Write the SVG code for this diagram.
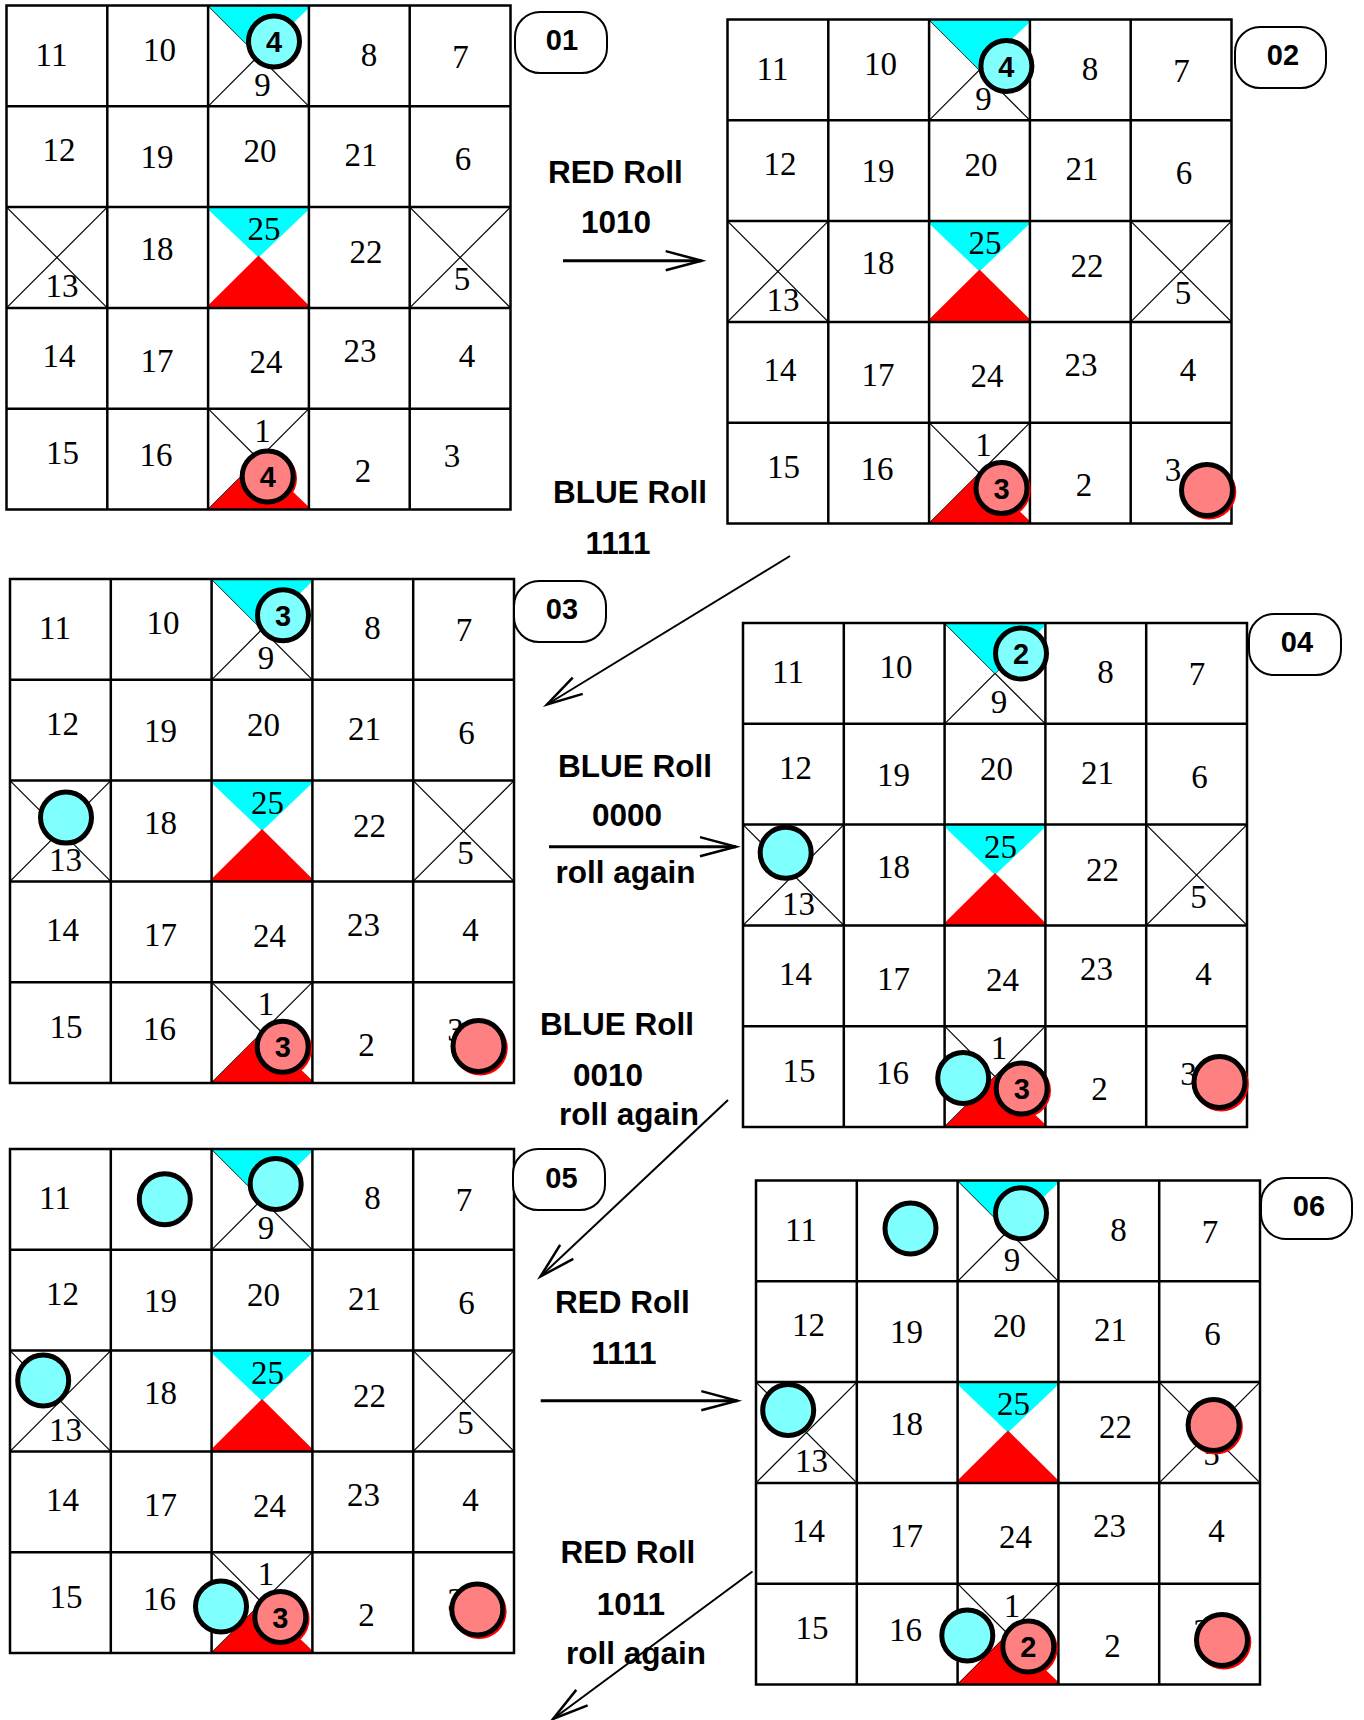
<svg xmlns="http://www.w3.org/2000/svg" xmlns:xlink="http://www.w3.org/1999/xlink" width="1364" height="1720" viewBox="0 0 1364 1720">
<style>
.gl{fill:none;stroke:#000;stroke-width:2.5}
.xl{stroke:#000;stroke-width:1.2}
.cy{fill:#00FFFF}
.rd{fill:#FF0000}
.n text{font-family:"Liberation Serif","Times New Roman",serif;font-size:33px;text-anchor:middle;fill:#000}
.tc{fill:#80FFFF;stroke:#000;stroke-width:5}
.tr{fill:#FF8080;stroke:#000;stroke-width:5}
.ts{fill:#FF0000}
.tl{font-family:"Liberation Sans",Arial,sans-serif;font-weight:bold;font-size:29px;text-anchor:middle;fill:#000}
.lb{font-family:"Liberation Sans",Arial,sans-serif;font-weight:bold;font-size:31.5px;text-anchor:middle;fill:#000}
.box{fill:#fff;stroke:#000;stroke-width:2}
.bn{font-family:"Liberation Sans",Arial,sans-serif;font-weight:bold;font-size:29px;text-anchor:middle;fill:#000}
.arh{fill:none;stroke:#000;stroke-width:3;marker-end:url(#ah)}
.ard{fill:none;stroke:#000;stroke-width:2;marker-end:url(#ah)}
</style>
<defs>
<marker id="ah" markerUnits="userSpaceOnUse" orient="auto" refX="0" refY="0" markerWidth="40" markerHeight="24" viewBox="-38 -12 40 24" overflow="visible">
<path d="M-36,-9.6 L0,0 L-36,9.6" fill="none" stroke="#000" stroke-width="2.5"/>
</marker>
<g id="grid">
<rect x="0" y="0" width="504" height="504" fill="#fff"/>
<line class="xl" x1="201.6" y1="0" x2="302.4" y2="100.8"/>
<line class="xl" x1="302.4" y1="0" x2="201.6" y2="100.8"/>
<line class="xl" x1="0" y1="201.6" x2="100.8" y2="302.4"/>
<line class="xl" x1="100.8" y1="201.6" x2="0" y2="302.4"/>
<line class="xl" x1="403.2" y1="201.6" x2="504" y2="302.4"/>
<line class="xl" x1="504" y1="201.6" x2="403.2" y2="302.4"/>
<line class="xl" x1="201.6" y1="403.2" x2="302.4" y2="504"/>
<line class="xl" x1="302.4" y1="403.2" x2="201.6" y2="504"/>
<polygon class="cy" points="201.6,0 305,0 252,50.4"/>
<polygon class="cy" points="199,201.6 305,201.6 252,252"/>
<polygon class="rd" points="199,302.4 305,302.4 252,250"/>
<polygon class="rd" points="201.6,504 305,504 252,453.6"/>
<rect class="gl" x="0" y="0" width="504" height="504"/>
<path class="gl" d="M100.8,0V504M201.6,0V504M302.4,0V504M403.2,0V504M0,100.8H504M0,201.6H504M0,302.4H504M0,403.2H504"/>
</g>
</defs>
<rect x="0" y="0" width="1364" height="1720" fill="#fff"/>

<g id="board01" transform="translate(6.5,5.5)">
<use href="#grid"/>
<g class="n">
<text x="45" y="60">11</text><text x="153" y="55">10</text><text x="256" y="90">9</text><text x="362.5" y="60">8</text><text x="454" y="62">7</text>
<text x="52.5" y="155.5">12</text><text x="150.5" y="162.5">19</text><text x="253.5" y="156.5">20</text><text x="354.5" y="160.5">21</text><text x="456.5" y="164.5">6</text>
<text x="55.5" y="291.5">13</text><text x="150.5" y="254.5">18</text><text x="257.5" y="234.5">25</text><text x="359.5" y="257.5">22</text><text x="455.5" y="284.5">5</text>
<text x="52.5" y="361.5">14</text><text x="150.5" y="366.5">17</text><text x="259.5" y="367.5">24</text><text x="353.5" y="356.5">23</text><text x="460.5" y="361.5">4</text>
<text x="56" y="458.5">15</text><text x="149.5" y="460.5">16</text><text x="256" y="436">1</text><text x="356.5" y="476.5">2</text><text x="445.5" y="461.5">3</text>
</g>
<circle class="tc" cx="267.5" cy="36" r="25.5"/><text class="tl" x="267.5" y="46.5">4</text>
<circle class="ts" cx="263" cy="473" r="27.5"/><circle class="tr" cx="261.2" cy="471" r="25.5"/><text class="tl" x="261.2" y="481.5">4</text>
</g>

<g id="board02" transform="translate(727.5,19.5)">
<use href="#grid"/>
<g class="n">
<text x="45" y="60">11</text><text x="153" y="55">10</text><text x="256" y="90">9</text><text x="362.5" y="60">8</text><text x="454" y="62">7</text>
<text x="52.5" y="155.5">12</text><text x="150.5" y="162.5">19</text><text x="253.5" y="156.5">20</text><text x="354.5" y="160.5">21</text><text x="456.5" y="164.5">6</text>
<text x="55.5" y="291.5">13</text><text x="150.5" y="254.5">18</text><text x="257.5" y="234.5">25</text><text x="359.5" y="257.5">22</text><text x="455.5" y="284.5">5</text>
<text x="52.5" y="361.5">14</text><text x="150.5" y="366.5">17</text><text x="259.5" y="367.5">24</text><text x="353.5" y="356.5">23</text><text x="460.5" y="361.5">4</text>
<text x="56" y="458.5">15</text><text x="149.5" y="460.5">16</text><text x="256" y="436">1</text><text x="356.5" y="476.5">2</text><text x="445.5" y="461.5">3</text>
</g>
<circle class="tc" cx="278.9" cy="46.5" r="25.5"/><text class="tl" x="278.9" y="57">4</text>
<circle class="ts" cx="275.8" cy="470.5" r="27.5"/><circle class="tr" cx="274" cy="468.5" r="25.5"/><text class="tl" x="274" y="479">3</text>
<circle class="ts" cx="481.3" cy="472.5" r="27.5"/><circle class="tr" cx="479.5" cy="470.5" r="25.5"/>
</g>

<g id="board03" transform="translate(10,579)">
<use href="#grid"/>
<g class="n">
<text x="45" y="60">11</text><text x="153" y="55">10</text><text x="256" y="90">9</text><text x="362.5" y="60">8</text><text x="454" y="62">7</text>
<text x="52.5" y="155.5">12</text><text x="150.5" y="162.5">19</text><text x="253.5" y="156.5">20</text><text x="354.5" y="160.5">21</text><text x="456.5" y="164.5">6</text>
<text x="55.5" y="291.5">13</text><text x="150.5" y="254.5">18</text><text x="257.5" y="234.5">25</text><text x="359.5" y="257.5">22</text><text x="455.5" y="284.5">5</text>
<text x="52.5" y="361.5">14</text><text x="150.5" y="366.5">17</text><text x="259.5" y="367.5">24</text><text x="353.5" y="356.5">23</text><text x="460.5" y="361.5">4</text>
<text x="56" y="458.5">15</text><text x="149.5" y="460.5">16</text><text x="256" y="436">1</text><text x="356.5" y="476.5">2</text><text x="445.5" y="461.5">3</text>
</g>
<circle class="tc" cx="273" cy="36.3" r="25.5"/><text class="tl" x="273" y="46.8">3</text>
<circle class="tc" cx="56" cy="238.6" r="25.5"/>
<circle class="ts" cx="274.5" cy="469.7" r="27.5"/><circle class="tr" cx="272.7" cy="467.7" r="25.5"/><text class="tl" x="272.7" y="478.2">3</text>
<circle class="ts" cx="470.3" cy="469" r="27.5"/><circle class="tr" cx="468.5" cy="467" r="25.5"/>
</g>

<g id="board04" transform="translate(743,623)">
<use href="#grid"/>
<g class="n">
<text x="45" y="60">11</text><text x="153" y="55">10</text><text x="256" y="90">9</text><text x="362.5" y="60">8</text><text x="454" y="62">7</text>
<text x="52.5" y="155.5">12</text><text x="150.5" y="162.5">19</text><text x="253.5" y="156.5">20</text><text x="354.5" y="160.5">21</text><text x="456.5" y="164.5">6</text>
<text x="55.5" y="291.5">13</text><text x="150.5" y="254.5">18</text><text x="257.5" y="234.5">25</text><text x="359.5" y="257.5">22</text><text x="455.5" y="284.5">5</text>
<text x="52.5" y="361.5">14</text><text x="150.5" y="366.5">17</text><text x="259.5" y="367.5">24</text><text x="353.5" y="356.5">23</text><text x="460.5" y="361.5">4</text>
<text x="56" y="458.5">15</text><text x="149.5" y="460.5">16</text><text x="256" y="436">1</text><text x="356.5" y="476.5">2</text><text x="445.5" y="461.5">3</text>
</g>
<circle class="tc" cx="278" cy="30.5" r="25.5"/><text class="tl" x="278" y="41">2</text>
<circle class="tc" cx="42.7" cy="229.7" r="25.5"/>
<circle class="tc" cx="220.2" cy="455" r="25.5"/>
<circle class="ts" cx="280.5" cy="467.5" r="27.5"/><circle class="tr" cx="278.7" cy="465.5" r="25.5"/><text class="tl" x="278.7" y="476">3</text>
<circle class="ts" cx="478.3" cy="461" r="27.5"/><circle class="tr" cx="476.5" cy="459" r="25.5"/>
</g>

<g id="board05" transform="translate(10,1149)">
<use href="#grid"/>
<g class="n">
<text x="45" y="60">11</text><text x="256" y="90">9</text><text x="362.5" y="60">8</text><text x="454" y="62">7</text>
<text x="52.5" y="155.5">12</text><text x="150.5" y="162.5">19</text><text x="253.5" y="156.5">20</text><text x="354.5" y="160.5">21</text><text x="456.5" y="164.5">6</text>
<text x="55.5" y="291.5">13</text><text x="150.5" y="254.5">18</text><text x="257.5" y="234.5">25</text><text x="359.5" y="257.5">22</text><text x="455.5" y="284.5">5</text>
<text x="52.5" y="361.5">14</text><text x="150.5" y="366.5">17</text><text x="259.5" y="367.5">24</text><text x="353.5" y="356.5">23</text><text x="460.5" y="361.5">4</text>
<text x="56" y="458.5">15</text><text x="149.5" y="460.5">16</text><text x="256" y="436">1</text><text x="356.5" y="476.5">2</text><text x="445.5" y="461.5">3</text>
</g>
<circle class="tc" cx="154.8" cy="50.2" r="25.5"/>
<circle class="tc" cx="265.7" cy="35" r="25.5"/>
<circle class="tc" cx="33.2" cy="231.5" r="25.5"/>
<circle class="tc" cx="211" cy="457.5" r="25.5"/>
<circle class="ts" cx="272.1" cy="470" r="27.5"/><circle class="tr" cx="270.3" cy="468" r="25.5"/><text class="tl" x="270.3" y="478.5">3</text>
<circle class="ts" cx="469.1" cy="462.5" r="27.5"/><circle class="tr" cx="467.3" cy="460.5" r="25.5"/>
</g>

<g id="board06" transform="translate(756,1180.5)">
<use href="#grid"/>
<g class="n">
<text x="45" y="60">11</text><text x="256" y="90">9</text><text x="362.5" y="60">8</text><text x="454" y="62">7</text>
<text x="52.5" y="155.5">12</text><text x="150.5" y="162.5">19</text><text x="253.5" y="156.5">20</text><text x="354.5" y="160.5">21</text><text x="456.5" y="164.5">6</text>
<text x="55.5" y="291.5">13</text><text x="150.5" y="254.5">18</text><text x="257.5" y="234.5">25</text><text x="359.5" y="257.5">22</text><text x="455.5" y="284.5">5</text>
<text x="52.5" y="361.5">14</text><text x="150.5" y="366.5">17</text><text x="259.5" y="367.5">24</text><text x="353.5" y="356.5">23</text><text x="460.5" y="361.5">4</text>
<text x="56" y="458.5">15</text><text x="149.5" y="460.5">16</text><text x="256" y="436">1</text><text x="356.5" y="476.5">2</text><text x="445.5" y="461.5">3</text>
</g>
<circle class="tc" cx="154.5" cy="48" r="25.5"/>
<circle class="tc" cx="265" cy="32.8" r="25.5"/>
<circle class="tc" cx="32.2" cy="229.5" r="25.5"/>
<circle class="ts" cx="459.4" cy="246.5" r="27.5"/><circle class="tr" cx="457.6" cy="244.5" r="25.5"/>
<circle class="tc" cx="211.3" cy="455" r="25.5"/>
<circle class="ts" cx="274.1" cy="468" r="27.5"/><circle class="tr" cx="272.3" cy="466" r="25.5"/><text class="tl" x="272.3" y="476.5">2</text>
<circle class="ts" cx="467.8" cy="461.5" r="27.5"/><circle class="tr" cx="466" cy="459.5" r="25.5"/>
</g>

<g id="labels">
<g id="label01"><rect class="box" x="515" y="12" width="92" height="61" rx="25"/><text class="bn" x="562" y="50">01</text></g>
<g id="label02"><rect class="box" x="1235" y="27" width="91" height="61" rx="25"/><text class="bn" x="1283" y="65">02</text></g>
<g id="label03"><rect class="box" x="514" y="581" width="92" height="61" rx="25"/><text class="bn" x="562" y="618.5">03</text></g>
<g id="label04"><rect class="box" x="1249" y="614" width="92" height="61" rx="25"/><text class="bn" x="1297" y="652">04</text></g>
<g id="label05"><rect class="box" x="513" y="1149" width="92" height="61" rx="25"/><text class="bn" x="561.5" y="1187.5">05</text></g>
<g id="label06"><rect class="box" x="1261" y="1178" width="91" height="61" rx="25"/><text class="bn" x="1309" y="1216">06</text></g>
</g>

<g id="connectors">
<line class="arh" x1="563" y1="260.7" x2="701.7" y2="260.7"/>
<line class="ard" x1="790" y1="556" x2="547" y2="704.5"/>
<line class="arh" x1="549" y1="846.7" x2="736" y2="846.7"/>
<line class="ard" x1="728" y1="1100" x2="540.5" y2="1276.5"/>
<line class="arh" x1="540.7" y1="1400.7" x2="737.3" y2="1400.7"/>
<line class="ard" x1="752.5" y1="1571.5" x2="553" y2="1719"/>
<g id="connector-labels">
<text class="lb" x="615.5" y="182.7">RED Roll</text>
<text class="lb" x="616" y="232.7">1010</text>
<text class="lb" x="630" y="502.7">BLUE Roll</text>
<text class="lb" x="618" y="554">1111</text>
<text class="lb" x="635" y="776.7">BLUE Roll</text>
<text class="lb" x="627" y="826">0000</text>
<text class="lb" x="625.5" y="883">roll again</text>
<text class="lb" x="617" y="1035">BLUE Roll</text>
<text class="lb" x="608" y="1086">0010</text>
<text class="lb" x="629" y="1125">roll again</text>
<text class="lb" x="622.5" y="1312.7">RED Roll</text>
<text class="lb" x="624" y="1364.3">1111</text>
<text class="lb" x="627.8" y="1563.3">RED Roll</text>
<text class="lb" x="630.8" y="1615">1011</text>
<text class="lb" x="636" y="1664">roll again</text>
</g>
</g>
</svg>
